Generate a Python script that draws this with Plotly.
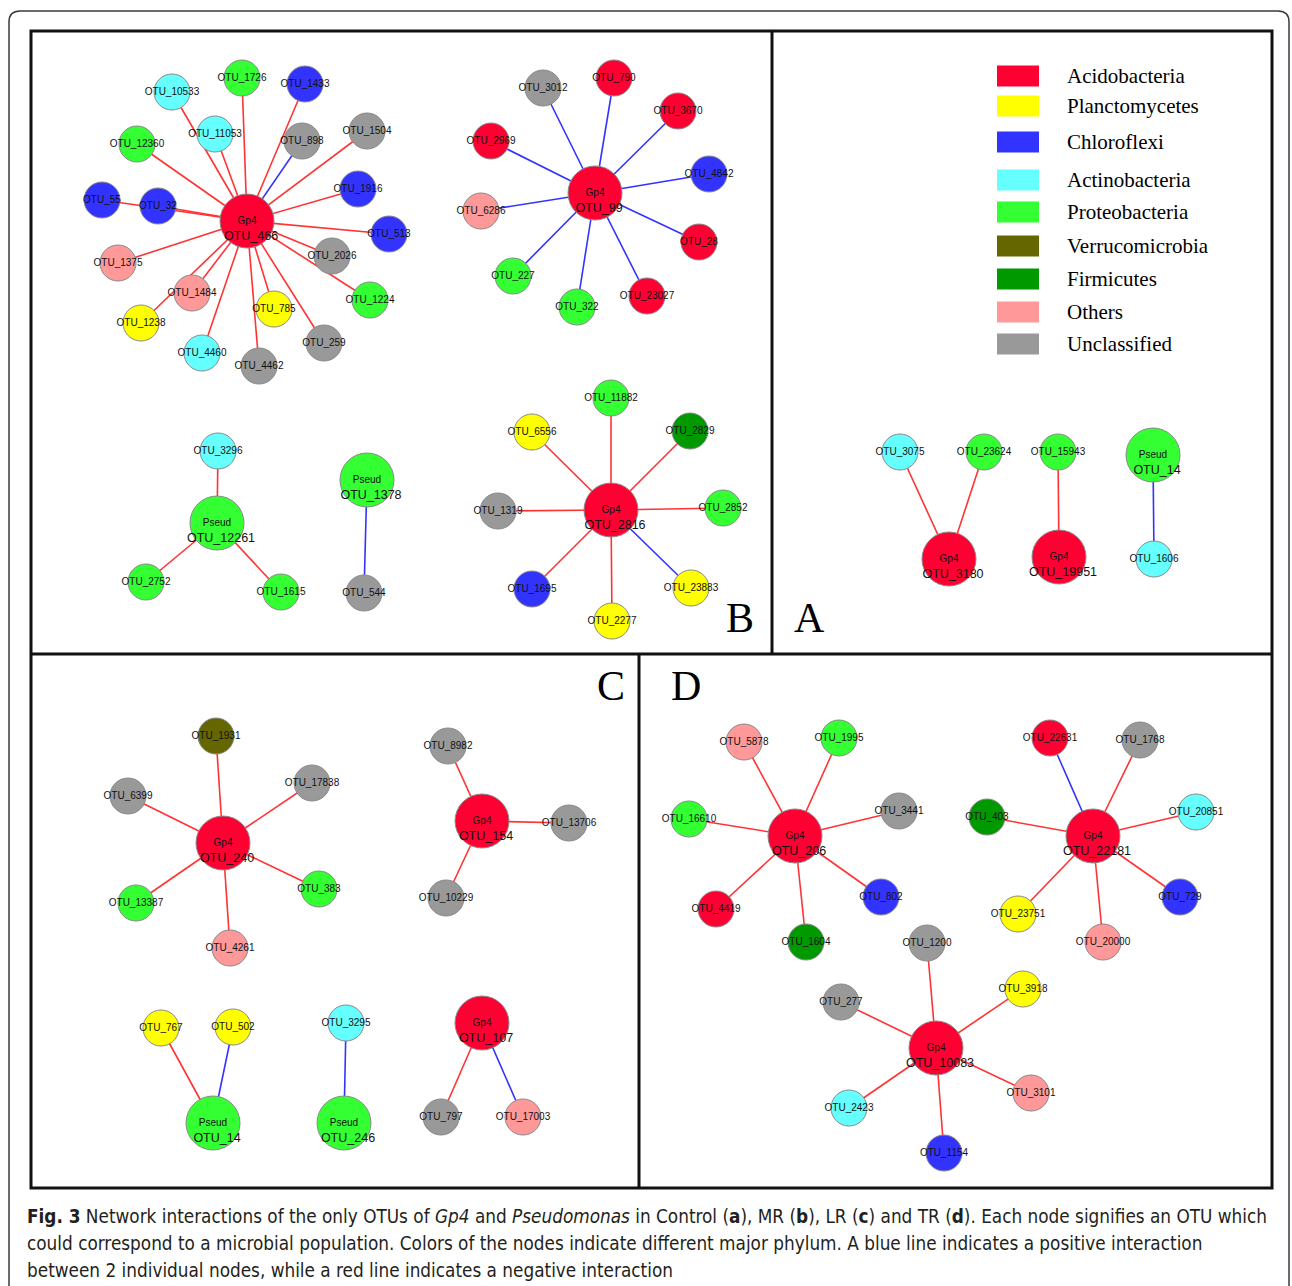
import plotly.graph_objects as go

# ---------------------------------------------------------------------------
# Phylum colour key
PHYLA = ["Acidobacteria", "Planctomycetes", "Chloroflexi", "Actinobacteria",
         "Proteobacteria", "Verrucomicrobia", "Firmicutes", "Others", "Unclassified"]
PHYLUM_COLORS = ["#ff0033", "#ffff00", "#3333ff", "#66ffff",
                 "#33ff33", "#666600", "#009900", "#ff9999", "#999999"]

# ---------------------------------------------------------------------------
# Network layouts (node name, phylum, genus tag of hub OTUs, layout x / y)
# Panel B (MR)
B_NODES = ["OTU_466", "OTU_10533", "OTU_1726", "OTU_1433", "OTU_11053", "OTU_898",
           "OTU_1504", "OTU_12360", "OTU_1916", "OTU_55", "OTU_32", "OTU_513",
           "OTU_2026", "OTU_1375", "OTU_1484", "OTU_1224", "OTU_785", "OTU_1238",
           "OTU_259", "OTU_4460", "OTU_4462",
           "OTU_99", "OTU_3012", "OTU_790", "OTU_3670", "OTU_2969", "OTU_4842",
           "OTU_6286", "OTU_28", "OTU_227", "OTU_322", "OTU_23027",
           "OTU_12261", "OTU_3296", "OTU_2752", "OTU_1615", "OTU_1378", "OTU_544",
           "OTU_2816", "OTU_11882", "OTU_6556", "OTU_2829", "OTU_1319", "OTU_2852",
           "OTU_1695", "OTU_23883", "OTU_2277"]
B_PHYLUM = ["Acidobacteria", "Actinobacteria", "Proteobacteria", "Chloroflexi", "Actinobacteria", "Unclassified",
            "Unclassified", "Proteobacteria", "Chloroflexi", "Chloroflexi", "Chloroflexi", "Chloroflexi",
            "Unclassified", "Others", "Others", "Proteobacteria", "Planctomycetes", "Planctomycetes",
            "Unclassified", "Actinobacteria", "Unclassified",
            "Acidobacteria", "Unclassified", "Acidobacteria", "Acidobacteria", "Acidobacteria", "Chloroflexi",
            "Others", "Acidobacteria", "Proteobacteria", "Proteobacteria", "Acidobacteria",
            "Proteobacteria", "Actinobacteria", "Proteobacteria", "Proteobacteria", "Proteobacteria", "Unclassified",
            "Acidobacteria", "Proteobacteria", "Planctomycetes", "Firmicutes", "Unclassified", "Proteobacteria",
            "Chloroflexi", "Planctomycetes", "Planctomycetes"]
B_GENUS = ["Gp4"] + [""] * 20 + ["Gp4"] + [""] * 10 + ["Pseud", "", "", "", "Pseud", ""] + ["Gp4"] + [""] * 8
B_X = [247, 172, 242, 305, 215, 302, 367, 137, 358, 102, 158, 389, 332, 118, 192, 370, 274, 141, 324, 202, 259,
       595, 543, 614, 678, 491, 709, 481, 699, 513, 577, 647,
       217, 218, 146, 281, 367, 364,
       611, 611, 532, 690, 498, 723, 532, 691, 612]
B_Y = [221, 92, 78, 84, 134, 141, 131, 144, 189, 200, 206, 234, 256, 263, 293, 300, 309, 323, 343, 353, 366,
       193, 88, 78, 111, 141, 174, 211, 242, 276, 307, 296,
       523, 451, 582, 592, 480, 593,
       510, 398, 432, 431, 511, 508, 589, 588, 621]
B_EDGES = [("OTU_466", t, "-") for t in
           ["OTU_10533", "OTU_1726", "OTU_1433", "OTU_11053", "OTU_1504", "OTU_12360", "OTU_1916",
            "OTU_55", "OTU_32", "OTU_513", "OTU_2026", "OTU_1375", "OTU_1484", "OTU_1224", "OTU_785",
            "OTU_1238", "OTU_259", "OTU_4460", "OTU_4462"]] + [("OTU_466", "OTU_898", "+")]
B_EDGES += [("OTU_99", t, "+") for t in
            ["OTU_3012", "OTU_790", "OTU_3670", "OTU_2969", "OTU_4842", "OTU_6286", "OTU_28",
             "OTU_227", "OTU_322", "OTU_23027"]]
B_EDGES += [("OTU_12261", "OTU_3296", "-"), ("OTU_12261", "OTU_2752", "-"),
            ("OTU_12261", "OTU_1615", "-"), ("OTU_1378", "OTU_544", "+")]
B_EDGES += [("OTU_2816", t, "-") for t in
            ["OTU_11882", "OTU_6556", "OTU_2829", "OTU_1319", "OTU_2852", "OTU_1695", "OTU_2277"]]
B_EDGES += [("OTU_2816", "OTU_23883", "+")]

# Panel A (Control)
A_NODES = ["OTU_3075", "OTU_23624", "OTU_15943", "OTU_14", "OTU_3180", "OTU_19951", "OTU_1606"]
A_PHYLUM = ["Actinobacteria", "Proteobacteria", "Proteobacteria", "Proteobacteria",
            "Acidobacteria", "Acidobacteria", "Actinobacteria"]
A_GENUS = ["", "", "", "Pseud", "Gp4", "Gp4", ""]
A_X = [900, 984, 1058, 1153, 949, 1059, 1154]
A_Y = [452, 452, 452, 455, 559, 557, 559]
A_EDGES = [("OTU_3180", "OTU_3075", "-"), ("OTU_3180", "OTU_23624", "-"),
           ("OTU_19951", "OTU_15943", "-"), ("OTU_14", "OTU_1606", "+")]

# Panel C (LR)
C_NODES = ["OTU_240", "OTU_1931", "OTU_6399", "OTU_17838", "OTU_383", "OTU_13387", "OTU_4261",
           "OTU_154", "OTU_8982", "OTU_13706", "OTU_10229",
           "OTU_14", "OTU_767", "OTU_502", "OTU_246", "OTU_3295",
           "OTU_107", "OTU_797", "OTU_17003"]
C_PHYLUM = ["Acidobacteria", "Verrucomicrobia", "Unclassified", "Unclassified", "Proteobacteria",
            "Proteobacteria", "Others",
            "Acidobacteria", "Unclassified", "Unclassified", "Unclassified",
            "Proteobacteria", "Planctomycetes", "Planctomycetes", "Proteobacteria", "Actinobacteria",
            "Acidobacteria", "Unclassified", "Others"]
C_GENUS = ["Gp4", "", "", "", "", "", "", "Gp4", "", "", "",
           "Pseud", "", "", "Pseud", "", "Gp4", "", ""]
C_X = [223, 216, 128, 312, 319, 136, 230, 482, 448, 569, 446, 213, 161, 233, 344, 346, 482, 441, 523]
C_Y = [843, 736, 796, 783, 889, 903, 948, 821, 746, 823, 898, 1123, 1028, 1027, 1123, 1023, 1023, 1117, 1117]
C_EDGES = [("OTU_240", t, "-") for t in
           ["OTU_1931", "OTU_6399", "OTU_17838", "OTU_383", "OTU_13387", "OTU_4261"]]
C_EDGES += [("OTU_154", t, "-") for t in ["OTU_8982", "OTU_13706", "OTU_10229"]]
C_EDGES += [("OTU_14", "OTU_767", "-"), ("OTU_14", "OTU_502", "+"), ("OTU_246", "OTU_3295", "+"),
            ("OTU_107", "OTU_797", "-"), ("OTU_107", "OTU_17003", "+")]

# Panel D (TR)
D_NODES = ["OTU_206", "OTU_5878", "OTU_1995", "OTU_16610", "OTU_3441", "OTU_802", "OTU_4419", "OTU_1604",
           "OTU_22181", "OTU_22631", "OTU_1768", "OTU_403", "OTU_20851", "OTU_729", "OTU_23751", "OTU_20000",
           "OTU_10083", "OTU_1200", "OTU_277", "OTU_3918", "OTU_2423", "OTU_3101", "OTU_1154"]
D_PHYLUM = ["Acidobacteria", "Others", "Proteobacteria", "Proteobacteria", "Unclassified", "Chloroflexi",
            "Acidobacteria", "Firmicutes",
            "Acidobacteria", "Acidobacteria", "Unclassified", "Firmicutes", "Actinobacteria", "Chloroflexi",
            "Planctomycetes", "Others",
            "Acidobacteria", "Unclassified", "Unclassified", "Planctomycetes", "Actinobacteria", "Others",
            "Chloroflexi"]
D_GENUS = ["Gp4"] + [""] * 7 + ["Gp4"] + [""] * 7 + ["Gp4"] + [""] * 6
D_X = [795, 744, 839, 689, 899, 881, 716, 806, 1093, 1050, 1140, 987, 1196, 1180, 1018, 1103,
       936, 927, 841, 1023, 849, 1031, 944]
D_Y = [836, 742, 738, 819, 811, 897, 909, 942, 836, 738, 740, 817, 812, 897, 914, 942,
       1048, 943, 1002, 989, 1108, 1093, 1153]
D_EDGES = [("OTU_206", t, "-") for t in
           ["OTU_5878", "OTU_1995", "OTU_16610", "OTU_3441", "OTU_802", "OTU_4419", "OTU_1604"]]
D_EDGES += [("OTU_22181", "OTU_22631", "+")]
D_EDGES += [("OTU_22181", t, "-") for t in
            ["OTU_1768", "OTU_403", "OTU_20851", "OTU_729", "OTU_23751", "OTU_20000"]]
D_EDGES += [("OTU_10083", t, "-") for t in
            ["OTU_1200", "OTU_277", "OTU_3918", "OTU_2423", "OTU_3101", "OTU_1154"]]

PANEL_LETTERS = ["B", "A", "C", "D"]
CAPTION = [
    "<b>Fig. 3</b> Network interactions of the only OTUs of <i>Gp4</i> and <i>Pseudomonas</i> in Control "
    "(<b>a</b>), MR (<b>b</b>), LR (<b>c</b>) and TR (<b>d</b>). Each node signifies an OTU which",
    "could correspond to a microbial population. Colors of the nodes indicate different major phylum. "
    "A blue line indicates a positive interaction",
    "between 2 individual nodes, while a red line indicates a negative interaction",
]

# ---------------------------------------------------------------------------
W, H = 1292, 1286
EDGE_COLORS = {"+": "#3333ff", "-": "#ff3333"}
COLOR_OF = dict(zip(PHYLA, PHYLUM_COLORS))
LABEL_FONT = "Liberation Sans, Arial, sans-serif"

networks = [
    (B_NODES, B_PHYLUM, B_GENUS, B_X, B_Y, B_EDGES),
    (A_NODES, A_PHYLUM, A_GENUS, A_X, A_Y, A_EDGES),
    (C_NODES, C_PHYLUM, C_GENUS, C_X, C_Y, C_EDGES),
    (D_NODES, D_PHYLUM, D_GENUS, D_X, D_Y, D_EDGES),
]

fig = go.Figure()

for nodes, phylum, genus, xs, ys, edges in networks:
    pos = {n: (x, y) for n, x, y in zip(nodes, xs, ys)}
    # interaction edges, one trace per sign
    for sign in ("-", "+"):
        ex, ey = [], []
        for a, b, s in edges:
            if s != sign:
                continue
            ex += [pos[a][0], pos[b][0], None]
            ey += [pos[a][1], pos[b][1], None]
        if ex:
            fig.add_trace(go.Scatter(x=ex, y=ey, mode="lines", hoverinfo="skip",
                                     line=dict(color=EDGE_COLORS[sign], width=1.6)))
    # nodes: hub OTUs drawn larger
    fig.add_trace(go.Scatter(
        x=xs, y=ys, mode="markers", hovertext=nodes, hoverinfo="text",
        marker=dict(size=[54 if g else 36 for g in genus],
                    color=[COLOR_OF[p] for p in phylum],
                    line=dict(color="#8a8a8a", width=1), opacity=1),
    ))
    # labels of ordinary nodes
    small = [i for i, g in enumerate(genus) if not g]
    fig.add_trace(go.Scatter(
        x=[xs[i] for i in small], y=[ys[i] for i in small], mode="text",
        text=[nodes[i] for i in small], hoverinfo="skip",
        textfont=dict(family=LABEL_FONT, size=10, color="#111111"),
    ))
    # hub labels: genus tag in the middle, OTU name below it
    hubs = [i for i, g in enumerate(genus) if g]
    fig.add_trace(go.Scatter(
        x=[xs[i] for i in hubs], y=[ys[i] for i in hubs], mode="text",
        text=[genus[i] for i in hubs], hoverinfo="skip",
        textfont=dict(family=LABEL_FONT, size=10, color="#111111"),
    ))
    fig.add_trace(go.Scatter(
        x=[xs[i] + 4 for i in hubs], y=[ys[i] + 16 for i in hubs], mode="text",
        text=[nodes[i] for i in hubs], hoverinfo="skip",
        textfont=dict(family=LABEL_FONT, size=12.5, color="#111111"),
    ))

shapes = []
annotations = []

# outer rounded card border
shapes.append(dict(type="path", xref="x", yref="y",
                   path="M 9,1300 L 9,22 Q 9,11 20,11 L 1278,11 Q 1289,11 1289,22 L 1289,1300",
                   line=dict(color="#3a3a3a", width=1.5)))
# panel frames
frame = dict(color="#111111", width=3)
shapes.append(dict(type="rect", xref="x", yref="y", x0=31, y0=31, x1=1272, y1=1188, line=frame))
shapes.append(dict(type="line", xref="x", yref="y", x0=772, y0=31, x1=772, y1=654, line=frame))
shapes.append(dict(type="line", xref="x", yref="y", x0=31, y0=654, x1=1272, y1=654, line=frame))
shapes.append(dict(type="line", xref="x", yref="y", x0=639, y0=654, x1=639, y1=1188, line=frame))

# panel letters
for letter, (lx, ly) in zip(PANEL_LETTERS, [(740, 618), (809, 618), (611, 686), (686, 686)]):
    annotations.append(dict(x=lx, y=ly, xref="x", yref="y", text=letter, showarrow=False,
                            font=dict(family="Liberation Serif, Times New Roman, serif",
                                      size=42, color="#000000")))

# phylum legend
legend_y = [76, 106, 142, 180, 212, 246, 279, 312, 344]
for name, col, ly in zip(PHYLA, PHYLUM_COLORS, legend_y):
    shapes.append(dict(type="rect", xref="x", yref="y", x0=997, x1=1039, y0=ly - 10.5, y1=ly + 10.5,
                       fillcolor=col, line=dict(width=0)))
    annotations.append(dict(x=1065, y=ly, xref="x", yref="y", text=name, showarrow=False,
                            xanchor="left", yanchor="middle",
                            font=dict(family="Liberation Serif, Times New Roman, serif",
                                      size=21, color="#000000")))

# figure caption
for line, cy in zip(CAPTION, [1216, 1243, 1270]):
    annotations.append(dict(x=25, y=cy, xref="x", yref="y", text=line, showarrow=False,
                            xanchor="left", yanchor="middle",
                            font=dict(family="Liberation Sans Narrow, DejaVu Sans Condensed, Arial Narrow, sans-serif",
                                      size=18.8, color="#231f20")))

fig.update_layout(
    width=W, height=H,
    margin=dict(l=0, r=0, t=0, b=0),
    paper_bgcolor="white", plot_bgcolor="white",
    showlegend=False,
    xaxis=dict(range=[0, W], visible=False, fixedrange=True),
    yaxis=dict(range=[H, 0], visible=False, fixedrange=True),
    shapes=shapes,
    annotations=annotations,
)

fig.write_html("out.html")
